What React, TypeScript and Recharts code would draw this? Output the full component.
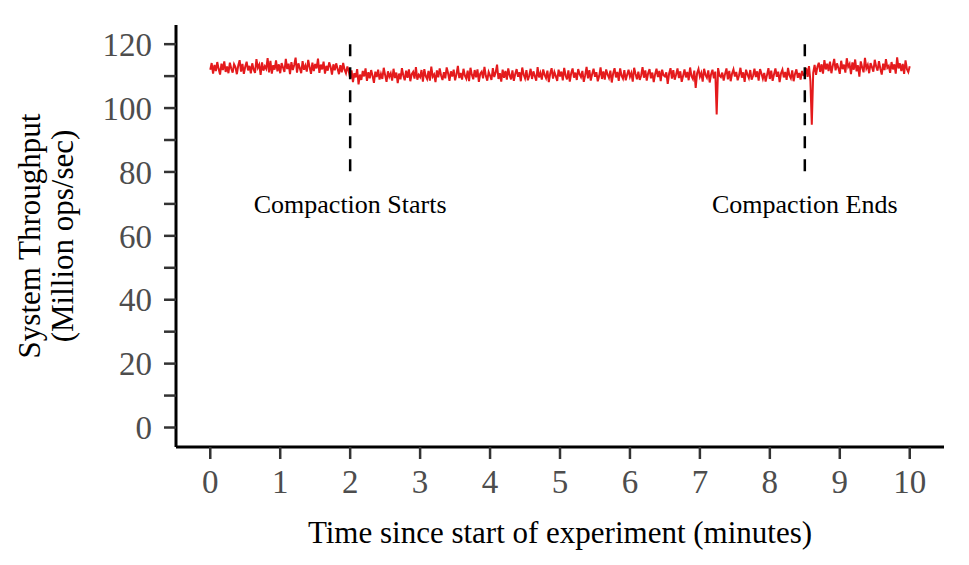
import React from 'react';
import { LineChart, Line, XAxis, YAxis, ReferenceLine, ReferenceDot } from 'recharts';

// Throughput samples (Million ops/sec), one every SAMPLE_STEP minutes starting at 0
const throughputBefore: number[] = [
  112.0, 114.1, 110.8, 113.5, 111.6, 114.4, 112.2, 110.5, 113.9, 111.9,
  114.6, 111.3, 113.0, 110.9, 114.2, 112.4, 111.1, 113.7, 112.8, 110.6,
  113.3, 115.0, 111.4, 113.8, 110.7, 112.9, 114.5, 111.8, 113.2, 110.9,
  114.0, 112.1, 111.0, 115.3, 112.6, 113.6, 110.4, 114.3, 111.7, 113.1,
  112.3, 115.6, 111.2, 114.8, 110.8, 113.4, 112.0, 114.9, 111.5, 113.7,
  110.9, 114.1, 112.7, 111.3, 115.4, 112.2, 113.9, 110.6, 114.4, 111.9,
  113.5, 115.8, 111.1, 114.0, 112.5, 110.9, 114.7, 112.0, 113.3, 111.4,
  115.1, 112.8, 110.7, 114.2, 111.6, 113.8, 112.4, 115.5, 111.0, 113.6,
  112.1, 114.5, 110.8, 113.2, 111.7, 114.3, 112.9, 110.5, 113.7, 111.8,
  114.0, 112.3, 110.6, 113.4, 111.2, 114.1, 112.0, 110.9, 113.0, 111.5,
];
const throughputDuring: number[] = [
  109.2, 111.8, 108.1, 110.9, 109.6, 112.2, 107.4, 110.5, 108.8, 111.6,
  109.9, 112.4, 108.5, 111.2, 109.3, 111.9, 110.1, 107.9, 111.4, 109.7,
  112.0, 108.9, 110.7, 109.1, 112.6, 110.3, 108.2, 111.5, 109.8, 110.9,
  108.6, 112.3, 109.4, 111.1, 107.8, 110.8, 109.0, 112.5, 110.2, 108.7,
  111.7, 109.5, 112.1, 108.4, 110.6, 111.3, 109.2, 112.8, 108.9, 110.4,
  109.7, 111.9, 108.3, 112.2, 110.0, 109.1, 111.6, 108.6, 113.0, 109.8,
  110.5, 108.1, 111.8, 109.6, 112.4, 110.2, 108.8, 111.2, 109.3, 112.7,
  110.9, 108.5, 111.5, 109.9, 112.0, 108.7, 110.6, 113.2, 109.4, 111.0,
  108.9, 112.3, 110.1, 109.2, 111.7, 108.4, 112.6, 110.4, 109.0, 111.9,
  109.6, 112.1, 108.2, 110.8, 111.4, 109.3, 112.9, 110.0, 108.6, 111.3,
  110.2, 108.8, 112.5, 109.7, 111.1, 113.6, 109.1, 110.9, 108.3, 112.0,
  109.5, 111.6, 108.9, 112.4, 110.3, 109.0, 111.8, 108.5, 110.7, 112.2,
  109.8, 111.2, 108.4, 112.7, 110.5, 109.3, 111.9, 108.7, 110.1, 112.3,
  109.1, 111.5, 110.0, 108.6, 112.8, 109.6, 111.0, 108.9, 112.1, 110.4,
  109.4, 111.7, 108.1, 110.8, 112.5, 109.2, 111.3, 110.0, 108.5, 112.0,
  109.9, 111.4, 108.7, 112.6, 110.2, 109.0, 111.8, 108.3, 110.9, 112.4,
  109.5, 111.1, 108.8, 112.2, 110.6, 109.7, 111.6, 108.2, 110.3, 112.9,
  109.3, 111.9, 108.6, 110.7, 112.3, 109.8, 111.2, 108.4, 110.0, 112.7,
  109.1, 111.5, 108.9, 112.1, 110.5, 109.4, 111.7, 108.0, 110.8, 112.5,
  109.6, 111.3, 108.5, 112.4, 110.1, 109.2, 111.9, 108.7, 110.4, 112.0,
  109.8, 111.0, 108.3, 112.6, 110.7, 109.0, 111.4, 108.8, 110.2, 112.8,
  109.5, 111.8, 108.6, 110.9, 112.2, 109.3, 111.1, 108.1, 110.6, 112.3,
  109.7, 111.6, 108.4, 112.0, 110.3, 109.9, 111.2, 107.6, 110.8, 112.5,
  109.2, 111.9, 108.9, 110.5, 112.4, 109.4, 111.5, 108.2, 110.1, 112.1,
  109.6, 111.3, 108.7, 112.7, 110.0, 109.1, 111.7, 106.3, 110.9, 112.2,
  109.8, 111.0, 108.3, 112.3, 110.4, 109.5, 111.8, 108.0, 110.6, 112.0,
  109.3, 111.4, 98.0, 112.5, 110.2, 109.7, 111.1, 108.6, 110.7, 112.4,
  109.0, 111.6, 108.4, 110.8, 112.1, 109.9, 111.3, 108.7, 110.3, 112.6,
  109.5, 111.2, 108.2, 112.0, 110.5, 109.4, 111.9, 108.9, 110.1, 112.3,
  109.7, 111.5, 108.6, 112.2, 110.8, 109.2, 111.0, 108.3, 110.4, 112.5,
  109.1, 111.7, 108.5, 110.6, 112.4, 109.8, 111.4, 108.1, 110.9, 112.0,
  109.6, 111.3, 108.8, 112.6, 110.2, 109.3, 111.8, 108.4, 110.7, 112.1,
  109.5, 111.0, 108.9, 111.6, 110.3,
];
const throughputAfter: number[] = [
  110.2, 112.6, 109.8, 113.1, 108.5, 94.8, 111.0, 113.5, 110.4, 112.9,
  114.2, 111.3, 113.7, 110.8, 115.0, 112.1, 113.9, 111.6, 114.5, 110.9,
  113.3, 115.4, 111.8, 114.0, 112.5, 110.7, 114.8, 112.2, 113.6, 111.1,
  115.6, 112.9, 113.8, 110.6, 114.3, 112.0, 115.2, 111.5, 113.4, 109.8,
  114.6, 112.7, 111.2, 115.7, 112.4, 113.5, 110.9, 114.1, 112.8, 111.4,
  115.1, 113.0, 111.7, 114.7, 112.3, 110.5, 113.9, 111.9, 115.3, 112.6,
  113.2, 111.0, 114.4, 112.1, 113.7, 110.8, 115.9, 112.4, 114.0, 111.6,
  113.8, 110.7, 114.9, 112.2, 111.3, 113.1,
];
const SAMPLE_STEP = 0.02;

const xTicks = [0, 1, 2, 3, 4, 5, 6, 7, 8, 9, 10];
const yTicks = [0, 10, 20, 30, 40, 50, 60, 70, 80, 90, 100, 110, 120];
const yLabelEvery = 20;

const eventTimes = [2, 8.5];
const eventLabels = ['Compaction Starts', 'Compaction Ends'];
const markerFrom = 120;
const markerTo = 80;
const eventLabelLevel = 70;

const xTitle = 'Time since start of experiment (minutes)';
const yTitleLines = ['System Throughput', '(Million ops/sec)'];

const throughput = [...throughputBefore, ...throughputDuring, ...throughputAfter];
const data = throughput.map((v, i) => ({ t: Number((i * SAMPLE_STEP).toFixed(2)), v }));

const FONT = "'Liberation Serif', 'Times New Roman', 'DejaVu Serif', serif";
const TICK_GRAY = '#4D4D4D';

const XTick = (props: any) => {
  const { x, y, payload } = props;
  return (
    <text x={x} y={y} dy="0.71em" textAnchor="middle" fill={TICK_GRAY} fontSize={33} fontFamily={FONT}>
      {payload.value}
    </text>
  );
};

const YTick = (props: any) => {
  const { x, y, payload } = props;
  if (payload.value % yLabelEvery !== 0) return <g />;
  return (
    <text x={x} y={y} dy="0.355em" textAnchor="end" fill={TICK_GRAY} fontSize={33} fontFamily={FONT}>
      {payload.value}
    </text>
  );
};

export default function App() {
  return (
    <div style={{ position: 'absolute', left: 0, top: 0, width: 969, height: 565, background: '#fff' }}>
      <LineChart width={969} height={565} data={data} margin={{ top: 25, right: 25, bottom: 0, left: 0 }}>
        <XAxis
          dataKey="t"
          type="number"
          domain={[-0.49, 10.49]}
          ticks={xTicks}
          allowDataOverflow
          height={118}
          tickSize={12}
          tickMargin={11}
          tick={<XTick />}
          axisLine={{ stroke: '#000', strokeWidth: 3 }}
          tickLine={{ stroke: '#333', strokeWidth: 2.5 }}
          label={{
            content: () => (
              <text x={560} y={543} textAnchor="middle" fill="#000" fontSize={31} fontFamily={FONT}>
                {xTitle}
              </text>
            ),
          }}
        />
        <YAxis
          type="number"
          domain={[-6.1, 126]}
          ticks={yTicks}
          allowDataOverflow
          width={176}
          tickSize={12}
          tickMargin={12}
          tick={<YTick />}
          axisLine={{ stroke: '#000', strokeWidth: 3 }}
          tickLine={{ stroke: '#333', strokeWidth: 2.5 }}
          label={{
            content: () => (
              <text
                x={40}
                y={236}
                transform="rotate(-90, 40, 236)"
                textAnchor="middle"
                fill="#000"
                fontSize={31}
                fontFamily={FONT}
              >
                <tspan x={40} dy={0}>{yTitleLines[0]}</tspan>
                <tspan x={40} dy={33}>{yTitleLines[1]}</tspan>
              </text>
            ),
          }}
        />
        <Line
          type="linear"
          dataKey="v"
          stroke="#E41A1C"
          strokeWidth={2}
          dot={false}
          isAnimationActive={false}
        />
        {eventTimes.map((t) => (
          <ReferenceLine
            key={'l' + t}
            segment={[{ x: t, y: markerFrom }, { x: t, y: markerTo }]}
            stroke="#000"
            strokeWidth={2.5}
            strokeDasharray="12 11"
          />
        ))}
        {eventTimes.map((t, i) => (
          <ReferenceDot
            key={'d' + t}
            x={t}
            y={eventLabelLevel}
            r={0}
            fill="none"
            stroke="none"
            label={{ value: eventLabels[i], position: 'center', fontSize: 26, fill: '#000', fontFamily: FONT }}
          />
        ))}
      </LineChart>
    </div>
  );
}
